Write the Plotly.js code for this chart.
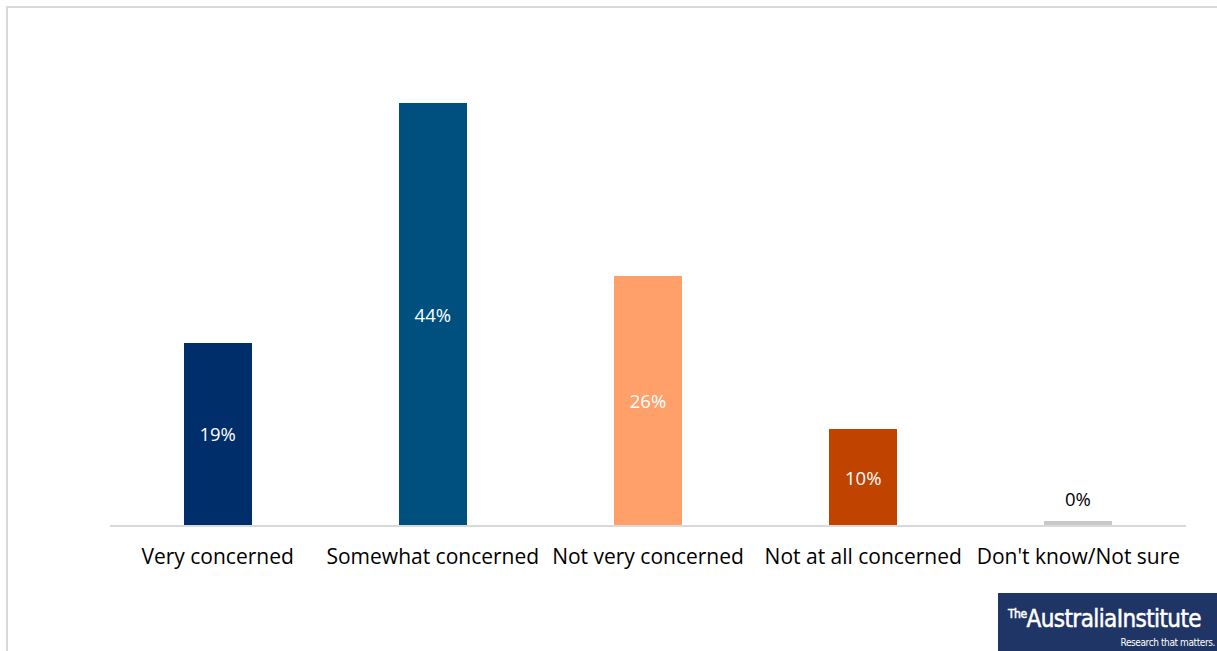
<!DOCTYPE html>
<html>
<head>
<meta charset="utf-8">
<script src="https://cdn.plot.ly/plotly-3.0.1.min.js"></script>
<style>
  html, body { margin: 0; padding: 0; width: 1217px; height: 651px; overflow: hidden; background: #fff; }
  #chart { position: absolute; left: 0; top: 0; width: 1217px; height: 651px; }
  #frame { position: absolute; left: 6px; top: 6px; width: 1260px; height: 700px; border: 2px solid #d9d9d9; pointer-events: none; }
  #logo { position: absolute; left: 998px; top: 593px; width: 219px; height: 58px; background: #1f3566; color: #fff;
          font-family: "Liberation Sans Narrow", "DejaVu Sans Condensed", "Roboto", sans-serif; }
  #logo .main { position: absolute; left: 10px; top: 12px; font-size: 24px; letter-spacing: -0.6px; white-space: nowrap; -webkit-text-stroke: 0.5px #fff; }
  #logo .the { font-size: 12px; vertical-align: 9px; letter-spacing: -0.5px; }
  #logo .tag { position: absolute; right: 2px; top: 44px; font-size: 10px; letter-spacing: -0.4px; white-space: nowrap; }
</style>
</head>
<body>
<div id="chart"></div>
<div id="frame"></div>
<div id="logo"><div class="main"><span class="the">The</span>AustraliaInstitute</div><div class="tag">Research that matters.</div></div>
<script>
const categories = ["Very concerned", "Somewhat concerned", "Not very concerned", "Not at all concerned", "Don't know/Not sure"];
const values = [19, 44, 26, 10, 0.4];
const labels = ["19%", "44%", "26%", "10%", "0%"];
const colors = ["#002e6b", "#00507f", "#ffa06a", "#c04400", "#c8c8c8"];

const SMALL = 2;
const trace = {
  type: "bar",
  x: categories,
  y: values,
  marker: { color: colors },
  width: 0.316,
  text: labels.map((t, i) => values[i] < SMALL ? "" : t),
  textposition: "inside",
  insidetextanchor: "middle",
  textfont: { family: "Open Sans, sans-serif", size: 18.5, color: "#ffffff" },
  hoverinfo: "none"
};

const annotations = categories
  .map((c, i) => ({ c, i }))
  .filter(o => values[o.i] < SMALL)
  .map(o => ({
    x: o.c, y: values[o.i], xref: "x", yref: "y",
    text: labels[o.i], showarrow: false, yanchor: "bottom", yshift: 8,
    font: { family: "Open Sans, sans-serif", size: 18.5, color: "#000000" }
  }));

const layout = {
  width: 1217, height: 651,
  margin: { l: 110, r: 31, t: 46, b: 126 },
  paper_bgcolor: "#ffffff",
  plot_bgcolor: "#ffffff",
  showlegend: false,
  bargap: 0,
  xaxis: {
    showline: true, linecolor: "#d9d9d9", linewidth: 1.5,
    ticks: "", showgrid: false, zeroline: false,
    tickfont: { family: "Open Sans, sans-serif", size: 21, color: "#000000" },
    ticklabelstandoff: 12
  },
  yaxis: { range: [0, 50], visible: false, showgrid: false, zeroline: false },
  annotations: annotations
};

Plotly.newPlot("chart", [trace], layout, { displayModeBar: false, staticPlot: true });
</script>
</body>
</html>
